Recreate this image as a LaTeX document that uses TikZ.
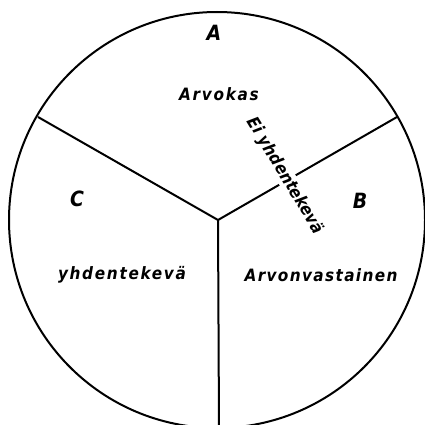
\documentclass[tikz,border=0pt]{standalone}
\usepackage{fontspec}
\newfontfamily\hand[LetterSpace=10]{DejaVu Sans Condensed}
\newfontfamily\handmid[LetterSpace=8]{DejaVu Sans Condensed}
\newfontfamily\handtight[LetterSpace=0]{DejaVu Sans Condensed}
\begin{document}
\begin{tikzpicture}[x=1pt,y=-1pt,
  line/.style={line width=2pt,black},
  lab/.style={font=\hand\bfseries\itshape\fontsize{17}{17}\selectfont,inner sep=1pt},
  mlab/.style={font=\handmid\bfseries\itshape\fontsize{17}{17}\selectfont,inner sep=1pt},
  rlab/.style={font=\handtight\bfseries\itshape\fontsize{17}{17}\selectfont,inner sep=1pt},
  big/.style={font=\hand\bfseries\itshape\fontsize{21}{21}\selectfont}]
\useasboundingbox (0,0) rectangle (425,425);
\fill[white] (0,0) rectangle (425,425);
\coordinate (ctr) at (218,220);
\coordinate (left) at (38,117);
\coordinate (right) at (397,117);
\coordinate (bottom) at (219,430);
\draw[line] (217,220) circle (208);
\draw[line] (left) -- (ctr) -- (right);
\draw[line] (ctr) -- (bottom);
\node[big] (A) at (214,33) {A};
\node[big] (B) at (360,201) {B};
\node[big] (C) at (77,199) {C};
\node[lab] (arvokas) at (219,94) {Arvokas};
\node[lab] (yhd) at (122,275) {yhdentekevä};
\node[mlab] (arvon) at (321,275) {Arvonvastainen};
\node[rlab,fill=white,rotate=-59] (ei) at (285,176) {Ei yhdentekevä};
\end{tikzpicture}
\end{document}
